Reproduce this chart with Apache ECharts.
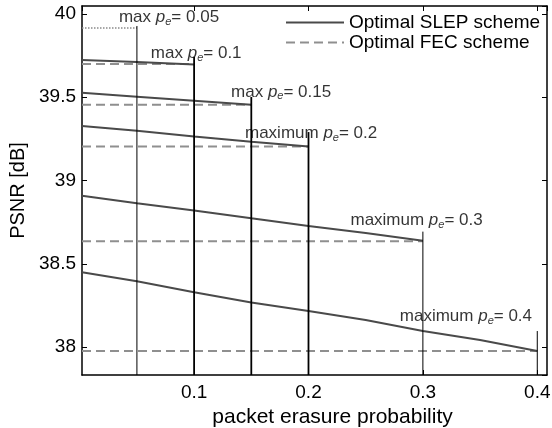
<!DOCTYPE html>
<html>
<head>
<meta charset="utf-8">
<script src="https://cdn.jsdelivr.net/npm/echarts@6/dist/echarts.min.js"></script>
<style>
html,body{margin:0;padding:0;background:#fff;}
#chart{width:552px;height:428px;}
</style>
</head>
<body>
<div id="chart"></div>
<script>
// maximum erasure probability each scheme was designed for
var peMax = [0.05, 0.1, 0.15, 0.2, 0.3, 0.4];
// packet erasure probability samples (x)
var peGrid = [0.002, 0.05, 0.1, 0.15, 0.2, 0.25, 0.3, 0.35, 0.4];
// SLEP psnr along peGrid, up to its peMax
var slep05 = [39.916, 39.916];
var slep10 = [39.724, 39.712, 39.697];
var slep15 = [39.527, 39.503, 39.479, 39.455];
var slep20 = [39.327, 39.299, 39.265, 39.233, 39.204];
var slep30 = [38.909, 38.863, 38.820, 38.773, 38.727, 38.685, 38.638];
var slep40 = [38.449, 38.395, 38.329, 38.268, 38.216, 38.162, 38.096, 38.042, 37.976];
// FEC psnr (flat) for each peMax
var fecPsnr = [39.916, 39.700, 39.455, 39.204, 38.635, 37.976];
// top of the vertical marker at each peMax
var markTop = [39.928, 39.742, 39.502, 39.291, 38.693, 38.096];
// annotation texts + anchor (left, middle) in data units
var labelHead = ['max ', 'max ', 'max ', 'maximum ', 'maximum ', 'maximum '];
var labelAt = [[0.0343, 39.982], [0.0622, 39.766], [0.1323, 39.532], [0.1445, 39.285], [0.2367, 38.763], [0.2798, 38.186]];

var xMin = 0.002, xMax = 0.4085, yMin = 37.832, yMax = 40.048;
var font = '"Liberation Sans", Arial, Helvetica, sans-serif';
var slepColor = '#4a4a4a';
var fecColor = '#8f8f8f';

var slepAll = [slep05, slep10, slep15, slep20, slep30, slep40];
var series = [];

slepAll.forEach(function (vals, i) {
  var pts = vals.map(function (v, j) { return [peGrid[j], v]; });
  if (i == 0) {
    // SLEP and FEC coincide here, drawn dotted
    series.push({
      name: 'same', type: 'line', data: pts, symbol: 'none', z: 3,
      lineStyle: {color: '#8a8a8a', width: 1.5, type: [1.5, 1.5]}
    });
    return;
  }
  series.push({
    name: 'Optimal SLEP scheme', type: 'line', data: pts, symbol: 'none', z: 4,
    lineStyle: {color: slepColor, width: 2}, itemStyle: {color: slepColor}
  });
});

fecPsnr.forEach(function (v, i) {
  if (i == 0) return;
  series.push({
    name: 'Optimal FEC scheme', type: 'line', symbol: 'none', z: 3,
    data: [[xMin, v], [peMax[i], v]],
    lineStyle: {color: fecColor, width: 2, type: [9, 5]}, itemStyle: {color: fecColor}
  });
});

peMax.forEach(function (p, i) {
  var thick = (p == 0.1 || p == 0.15 || p == 0.2);
  series.push({
    name: 'edge' + i, type: 'line', symbol: 'none', z: 5,
    data: [[p, yMin], [p, markTop[i]]],
    lineStyle: {color: '#000', width: thick ? 1.8 : 1}
  });
});

var rich = {
  n: {fontSize: 17, fontFamily: font, color: '#000', lineHeight: 20},
  p: {fontSize: 17, fontFamily: font, fontStyle: 'italic', color: '#000', lineHeight: 20},
  s: {fontSize: 11, fontFamily: font, fontStyle: 'italic', color: '#000', lineHeight: 10, verticalAlign: 'bottom'}
};
series.push({
  name: 'notes', type: 'scatter', symbolSize: 0, z: 6,
  data: labelAt.map(function (c, i) {
    return {
      value: c,
      label: {
        show: true, position: 'right', distance: 0,
        formatter: '{n|' + labelHead[i] + '}{p|p}{s|e}{n|= ' + peMax[i] + '}',
        rich: rich
      }
    };
  })
});

var tickStyle = {show: true, inside: true, length: 5, lineStyle: {color: '#000', width: 1}};
var lineStyle = {show: true, onZero: false, lineStyle: {color: '#000', width: 1.5}};

var option = {
  animation: false,
  backgroundColor: '#fff',
  grid: {left: 82, right: 5, top: 6, bottom: 53, containLabel: false, outerBoundsMode: 'none'},
  legend: {
    data: ['Optimal SLEP scheme', 'Optimal FEC scheme'],
    orient: 'vertical', left: 285, top: 13, padding: 0,
    itemWidth: 58, itemHeight: 14, itemGap: 1,
    itemStyle: {opacity: 0},
    textStyle: {fontSize: 19, color: '#000', fontFamily: font}
  },
  xAxis: [{
    type: 'value', min: xMin, max: xMax, minInterval: 0.1, maxInterval: 0.1,
    name: 'packet erasure probability', nameLocation: 'middle', nameGap: 31,
    nameTextStyle: {fontSize: 21, color: '#000', fontFamily: font, padding: [0, 0, 0, 36]},
    axisLine: lineStyle, axisTick: tickStyle, splitLine: {show: false},
    axisLabel: {fontSize: 19, color: '#000', fontFamily: font, margin: 8,
      showMinLabel: false, showMaxLabel: false}
  }, {
    type: 'value', position: 'top', min: xMin, max: xMax, minInterval: 0.1, maxInterval: 0.1,
    axisLine: lineStyle, axisTick: tickStyle, splitLine: {show: false}, axisLabel: {show: false}
  }],
  yAxis: [{
    type: 'value', min: yMin, max: yMax, minInterval: 0.5, maxInterval: 0.5,
    name: 'PSNR [dB]', nameLocation: 'middle', nameGap: 53,
    nameTextStyle: {fontSize: 20, color: '#000', fontFamily: font},
    axisLine: lineStyle, axisTick: tickStyle, splitLine: {show: false},
    axisLabel: {fontSize: 19, color: '#000', fontFamily: font, margin: 6, padding: [2, 0, 0, 0],
      showMinLabel: false, showMaxLabel: false}
  }, {
    type: 'value', position: 'right', min: yMin, max: yMax, minInterval: 0.5, maxInterval: 0.5,
    axisLine: lineStyle, axisTick: tickStyle, splitLine: {show: false}, axisLabel: {show: false}
  }],
  series: series
};

var myChart = echarts.init(document.getElementById('chart'));
myChart.setOption(option);
</script>
</body>
</html>
